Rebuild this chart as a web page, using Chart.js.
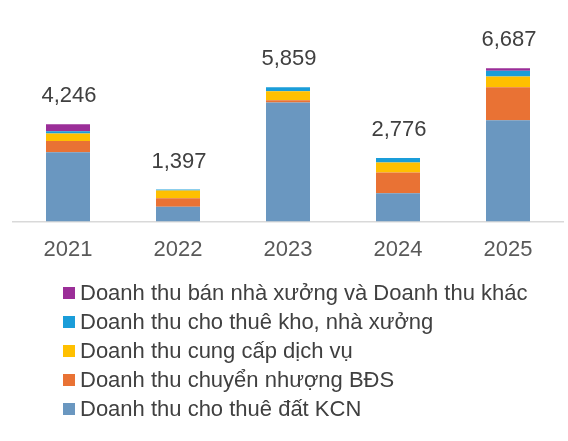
<!DOCTYPE html>
<html>
<head>
<meta charset="utf-8">
<script src="https://cdn.jsdelivr.net/npm/chart.js@4/dist/chart.umd.min.js"></script>
<style>
  html, body { margin: 0; padding: 0; background: #ffffff; }
  #wrap { position: relative; width: 568px; height: 441px; }
  #chart { position: absolute; left: 0; top: 0; }
  #legend { position: absolute; left: 63px; top: 278px; font-family: "Liberation Sans", Arial, sans-serif; font-size: 22px; color: #404040; }
  .item { display: flex; align-items: center; height: 29px; line-height: 29px; white-space: nowrap; }
  .box { width: 12px; height: 12px; margin-right: 5px; flex: none; }
</style>
</head>
<body>
<div id="wrap">
  <canvas id="chart" width="568" height="441"></canvas>
  <div id="legend"></div>
</div>
<script>
const years = ["2021", "2022", "2023", "2024", "2025"];
const seriesNames = [
  "Doanh thu cho thuê đất KCN",
  "Doanh thu chuyển nhượng BĐS",
  "Doanh thu cung cấp dịch vụ",
  "Doanh thu cho thuê kho, nhà xưởng",
  "Doanh thu bán nhà xưởng và Doanh thu khác"
];
const landLease = [3020, 645, 5190, 1230, 4414];
const realEstateTransfer = [487, 375, 100, 910, 1438];
const services = [331, 335, 385, 433, 474];
const warehouseLease = [100, 42, 184, 203, 245];
const factorySalesOther = [308, 0, 0, 0, 116];
const seriesColors = ["#6A97C0", "#E97234", "#FFC000", "#1A9DD9", "#9B2E98"];

const seriesData = [landLease, realEstateTransfer, services, warehouseLease, factorySalesOther];
const totals = years.map((_, i) => seriesData.reduce((s, arr) => s + arr[i], 0));

const totalLabels = {
  id: 'totalLabels',
  afterDatasetsDraw(chart) {
    const ctx = chart.ctx;
    const y = chart.scales.y, x = chart.scales.x;
    ctx.save();
    ctx.font = '22px "Liberation Sans", Arial, sans-serif';
    ctx.fillStyle = '#404040';
    ctx.textAlign = 'center';
    ctx.textBaseline = 'alphabetic';
    totals.forEach((t, i) => {
      const px = x.getPixelForValue(i);
      const py = y.getPixelForValue(t);
      ctx.fillText(t.toLocaleString('en-US'), px + 1, py - 22);
    });
    ctx.restore();
  }
};

const chart = new Chart(document.getElementById('chart'), {
  type: 'bar',
  data: {
    labels: years,
    datasets: seriesData.map((d, k) => ({
      label: seriesNames[k],
      data: d,
      backgroundColor: seriesColors[k],
      borderWidth: 0,
      barPercentage: 0.4,
      categoryPercentage: 1.0
    }))
  },
  options: {
    responsive: false,
    animation: false,
    layout: { padding: { left: 13, right: 5, top: 38, bottom: 163 } },
    plugins: { legend: { display: false }, tooltip: { enabled: false } },
    scales: {
      x: {
        stacked: true,
        grid: { display: false, drawTicks: false },
        border: { display: true, color: '#D9D9D9', width: 1.5 },
        ticks: { color: '#595959', font: { family: '"Liberation Sans", Arial, sans-serif', size: 22 }, padding: 15 }
      },
      y: {
        stacked: true,
        display: false,
        min: 0,
        max: 8000
      }
    }
  },
  plugins: [totalLabels]
});

const legendEl = document.getElementById('legend');
chart.data.datasets.slice().reverse().forEach(ds => {
  const row = document.createElement('div');
  row.className = 'item';
  const box = document.createElement('span');
  box.className = 'box';
  box.style.background = ds.backgroundColor;
  const txt = document.createElement('span');
  txt.textContent = ds.label;
  row.appendChild(box);
  row.appendChild(txt);
  legendEl.appendChild(row);
});
</script>
</body>
</html>
